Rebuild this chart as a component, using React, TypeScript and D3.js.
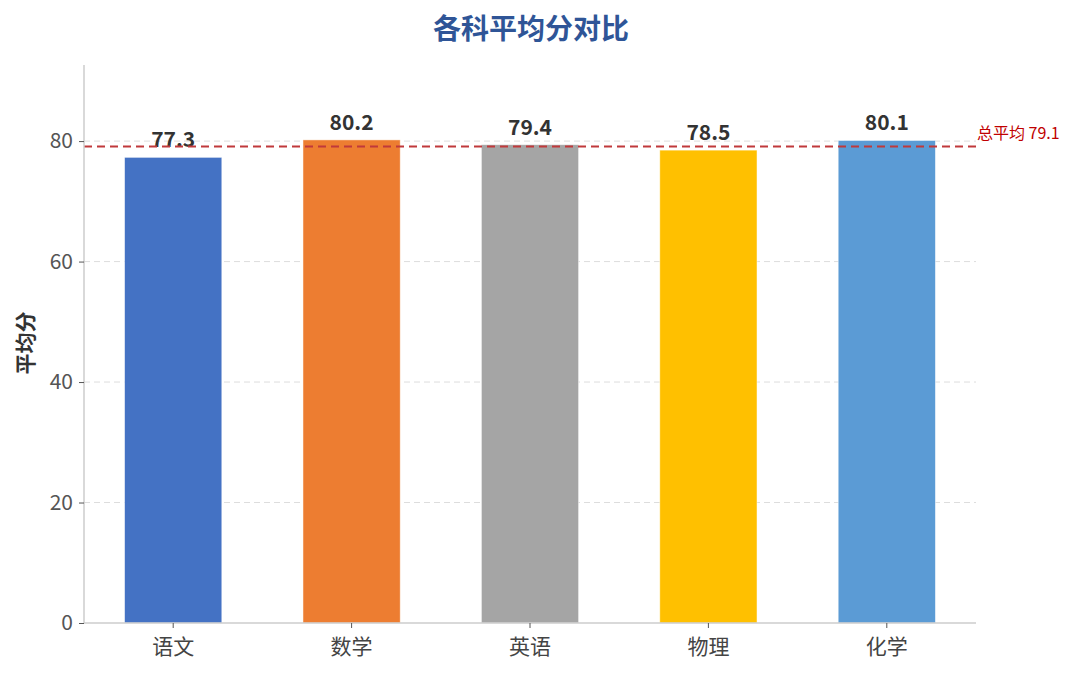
import { useRef, useEffect } from 'react';
import * as d3 from 'd3';

const subjects = ['语文', '数学', '英语', '物理', '化学'];
const scores = [77.3, 80.2, 79.4, 78.5, 80.1];
const barColors = ['#4472C4', '#ED7D31', '#A5A5A5', '#FFC000', '#5B9BD5'];
const yTicks = [0, 20, 40, 60, 80];
const overallMean = 79.1;

const FONT = '"Noto Sans CJK SC", "Noto Sans", sans-serif';

export default function App() {
  const svgRef = useRef<SVGSVGElement | null>(null);
  const width = 1080;
  const height = 675;

  useEffect(() => {
    const margin = { top: 65, right: 104, bottom: 52, left: 84 };
    const innerWidth = width - margin.left - margin.right;
    const innerHeight = height - margin.top - margin.bottom;

    const svg = d3.select(svgRef.current);
    svg.selectAll('*').remove();
    svg.attr('width', width).attr('height', height);

    // 标题
    svg.append('text')
      .attr('x', 531)
      .attr('y', 39)
      .attr('text-anchor', 'middle')
      .style('font-family', FONT)
      .style('font-size', '28px')
      .style('font-weight', 'bold')
      .attr('fill', '#2F5597')
      .text('各科平均分对比');

    const g = svg.append('g')
      .attr('transform', `translate(${margin.left},${margin.top})`);

    const xScale = d3.scaleBand<string>()
      .domain(subjects)
      .range([0, innerWidth])
      .paddingInner(0.455)
      .paddingOuter(0.2275);

    const yMax = (d3.max(scores) || 0) * 1.155;
    const yScale = d3.scaleLinear()
      .domain([0, yMax])
      .range([innerHeight, 0]);

    // 网格线
    g.append('g')
      .selectAll('line')
      .data(yTicks.filter(t => t > 0))
      .join('line')
      .attr('x1', 0)
      .attr('x2', innerWidth)
      .attr('y1', d => yScale(d))
      .attr('y2', d => yScale(d))
      .attr('stroke', '#dddddd')
      .attr('stroke-width', 1)
      .attr('stroke-dasharray', '6,4');

    // 柱子
    g.append('g')
      .selectAll('rect')
      .data(scores)
      .join('rect')
      .attr('x', (d, i) => xScale(subjects[i]) || 0)
      .attr('y', d => yScale(d))
      .attr('width', xScale.bandwidth())
      .attr('height', d => innerHeight - yScale(d))
      .attr('fill', (d, i) => barColors[i])
      .attr('stroke', 'white')
      .attr('stroke-opacity', 0.6)
      .attr('stroke-width', 0.8);

    // 数值标签
    g.append('g')
      .selectAll('text')
      .data(scores)
      .join('text')
      .attr('x', (d, i) => (xScale(subjects[i]) || 0) + xScale.bandwidth() / 2)
      .attr('y', d => yScale(d) - 10)
      .attr('text-anchor', 'middle')
      .style('font-family', FONT)
      .style('font-size', '21px')
      .style('font-weight', 'bold')
      .attr('fill', '#333333')
      .text(d => d.toFixed(1));

    // 总平均线
    const meanY = yScale(overallMean);
    g.append('line')
      .attr('x1', 0)
      .attr('x2', innerWidth)
      .attr('y1', meanY)
      .attr('y2', meanY)
      .attr('stroke', '#C0393B')
      .attr('stroke-width', 2)
      .attr('stroke-dasharray', '8,5');
    g.append('text')
      .attr('x', innerWidth + 1)
      .attr('y', meanY - 8)
      .style('font-family', FONT)
      .style('font-size', '16px')
      .attr('fill', '#C00000')
      .text(`总平均 ${overallMean.toFixed(1)}`);

    // Y 轴
    const yAxis = d3.axisLeft(yScale).tickValues(yTicks).tickSize(5).tickPadding(6);
    const yG = g.append('g').call(yAxis);
    yG.select('.domain').attr('stroke', '#cccccc').attr('stroke-width', 1.5)
      .attr('d', `M0,${innerHeight}V0`);
    yG.selectAll('.tick line').attr('stroke', '#555555');
    yG.selectAll('.tick text')
      .style('font-family', FONT)
      .style('font-size', '21px')
      .attr('fill', '#555555');

    // X 轴
    const xAxis = d3.axisBottom(xScale).tickSize(5).tickPadding(11);
    const xG = g.append('g')
      .attr('transform', `translate(0,${innerHeight})`)
      .call(xAxis);
    xG.select('.domain').attr('stroke', '#cccccc').attr('stroke-width', 1.5)
      .attr('d', `M0,0H${innerWidth}`);
    xG.selectAll('.tick line').attr('stroke', '#555555');
    xG.selectAll('.tick text')
      .style('font-family', FONT)
      .style('font-size', '21px')
      .attr('fill', '#444444');

    // Y 轴标题
    svg.append('text')
      .attr('transform', `translate(33,343) rotate(-90)`)
      .attr('text-anchor', 'middle')
      .style('font-family', FONT)
      .style('font-size', '21px')
      .style('font-weight', 'bold')
      .attr('fill', '#333333')
      .text('平均分');
  }, []);

  return (
    <svg
      ref={svgRef}
      style={{ position: 'absolute', left: 0, top: 0, background: '#ffffff' }}
    ></svg>
  );
}
